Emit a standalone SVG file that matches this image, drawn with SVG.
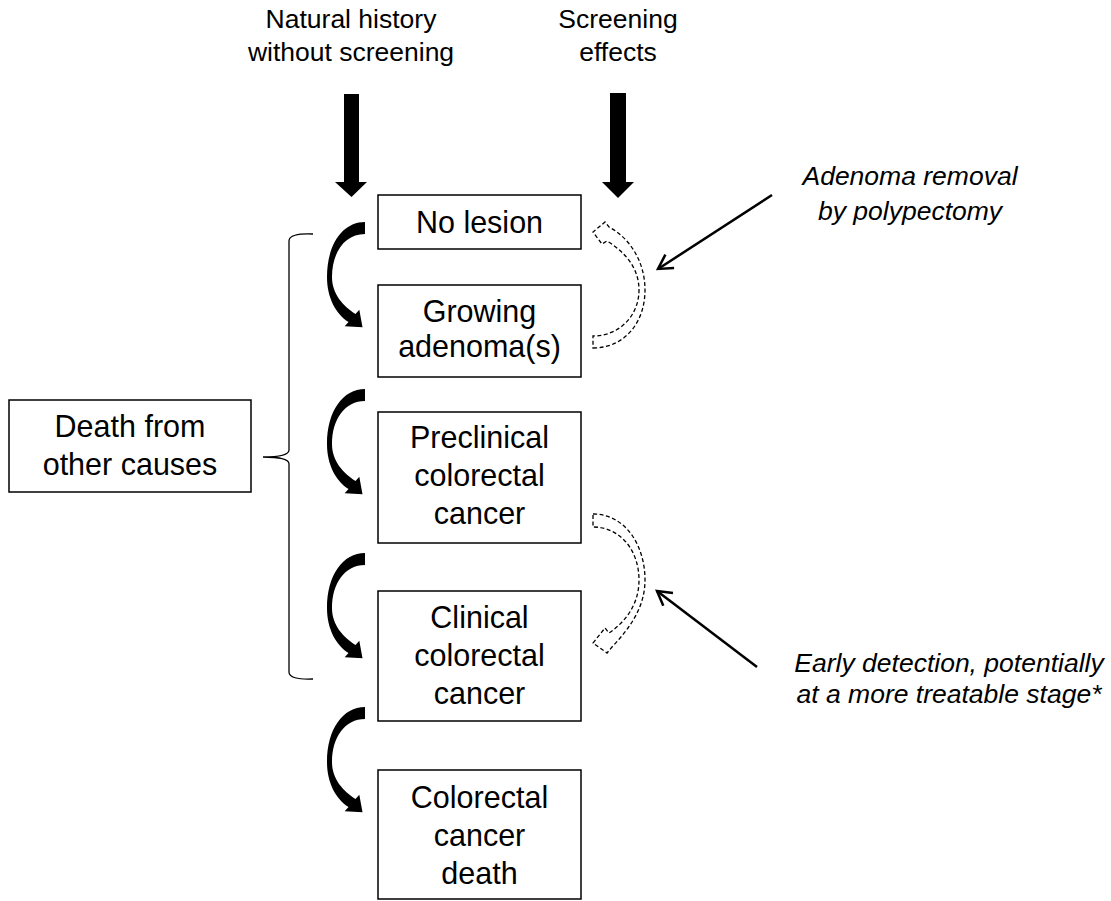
<svg xmlns="http://www.w3.org/2000/svg" xmlns:xlink="http://www.w3.org/1999/xlink" width="1111" height="901" viewBox="0 0 1111 901">
<style>
  text { font-family: "Liberation Sans", Arial, sans-serif; fill: #000; }
  .hdr { font-size: 26.5px; text-anchor: middle; }
  .box { fill: #fff; stroke: #000; stroke-width: 1.5; }
  .lbl { font-size: 30.5px; text-anchor: middle; }
  .note { font-size: 26.5px; font-style: italic; text-anchor: middle; }
  .thick { fill: #000; }
  .dash { fill: none; stroke: #000; stroke-width: 1.3; stroke-dasharray: 4 2.5; }
  .ptr { fill: none; stroke: #000; stroke-width: 2.5; }
  .brace { fill: none; stroke: #000; stroke-width: 1.3; }
</style>
<defs>
  <path id="curv" d="M0,0 C-22,0 -38,22 -38,55 C-38,76 -29,92 -16.5,100 L-20.3,104.3 L-2.5,105.2 L-5.7,87.8 L-9.5,92 C-22,84 -33,72 -33,55 C-33,30 -20,12 0,12 Z"/>
  <marker id="open" markerUnits="userSpaceOnUse" markerWidth="22" markerHeight="22" refX="15" refY="9" orient="auto">
    <path d="M1,1 L15,9 L1,17" fill="none" stroke="#000" stroke-width="2.5"/>
  </marker>
</defs>

<g id="headers">
  <text class="hdr" x="351" y="28">Natural history</text>
  <text class="hdr" x="351" y="61">without screening</text>
  <text class="hdr" x="618" y="28">Screening</text>
  <text class="hdr" x="618" y="61">effects</text>
</g>

<g id="node-no-lesion">
  <rect class="box" x="378" y="195" width="203" height="54"/>
  <text class="lbl" x="479.5" y="233">No lesion</text>
</g>
<g id="node-growing-adenoma">
  <rect class="box" x="378" y="285" width="203" height="92"/>
  <text class="lbl" x="479.5" y="322">Growing</text>
  <text class="lbl" x="479.5" y="357">adenoma(s)</text>
</g>
<g id="node-preclinical">
  <rect class="box" x="378" y="412" width="203" height="131"/>
  <text class="lbl" x="479.5" y="448">Preclinical</text>
  <text class="lbl" x="479.5" y="486">colorectal</text>
  <text class="lbl" x="479.5" y="524">cancer</text>
</g>
<g id="node-clinical">
  <rect class="box" x="378" y="591" width="203" height="130"/>
  <text class="lbl" x="479.5" y="628">Clinical</text>
  <text class="lbl" x="479.5" y="666">colorectal</text>
  <text class="lbl" x="479.5" y="704">cancer</text>
</g>
<g id="node-crc-death">
  <rect class="box" x="378" y="770" width="203" height="129"/>
  <text class="lbl" x="479.5" y="808">Colorectal</text>
  <text class="lbl" x="479.5" y="846">cancer</text>
  <text class="lbl" x="479.5" y="884">death</text>
</g>
<g id="node-other-death">
  <rect class="box" x="9" y="400" width="242" height="92"/>
  <text class="lbl" x="130" y="437">Death from</text>
  <text class="lbl" x="130" y="475">other causes</text>
</g>

<g id="notes">
  <text class="note" x="910" y="185">Adenoma  removal</text>
  <text class="note" x="910" y="220">by polypectomy</text>
  <text class="note" x="949" y="672">Early detection,  potentially</text>
  <text class="note" x="949" y="703">at a more treatable  stage*</text>
</g>

<g id="connectors">
  <path class="thick" d="M344,94 H359 V182 H367 L351.5,197 L335,182 H344 Z"/>
  <path class="thick" d="M610,93 H626 V182 H634 L618,198 L602,182 H610 Z"/>
  <use xlink:href="#curv" href="#curv" transform="translate(365,222)"/>
  <use xlink:href="#curv" href="#curv" transform="translate(365,389)"/>
  <use xlink:href="#curv" href="#curv" transform="translate(365,553)"/>
  <use xlink:href="#curv" href="#curv" transform="translate(365,707)"/>
  <path class="dash" d="M593,348 C625,348 645,322 645,290 C645,262 630,238 609,227 L605,222 L593,232 L602,244 L607,241 C625,252 639,268 639,290 C639,315 620,336 593,336 Z"/>
  <path class="dash" d="M593,514 C625,514 645,545 645,580 C645,607 630,628 612,647 L607,653 L593,643 L605,628 L609,633 C628,620 639,602 639,580 C639,550 620,527 593,527 Z"/>
  <path class="ptr" d="M772,195 L658,269" marker-end="url(#open)"/>
  <path class="ptr" d="M757,667 L657,591" marker-end="url(#open)"/>
  <path class="brace" d="M313,234 Q289,233 289,241 L289,450 Q289,457 263,457 Q289,457 289,464 L289,672 Q289,680 313,679"/>
</g>
</svg>
